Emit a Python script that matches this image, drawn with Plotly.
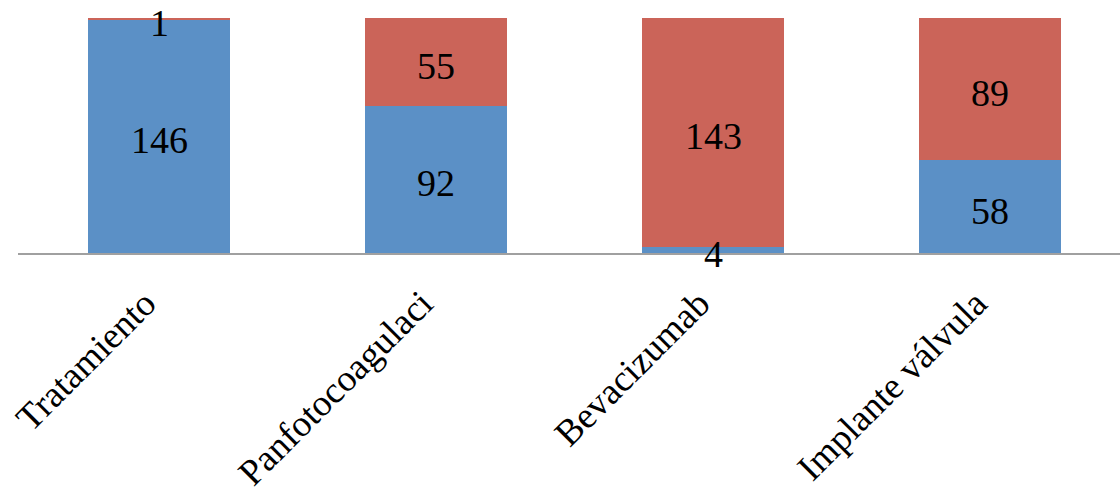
import plotly.graph_objects as go

# Treatment categories and the two stacked series
categorias = ["Tratamiento", "Panfotocoagulaci", "Bevacizumab", "Implante válvula"]
serie_azul = [146, 92, 4, 58]
serie_roja = [1, 55, 143, 89]

AZUL = "#5B90C6"
ROJO = "#CB6459"
FUENTE = "Liberation Serif"
TAM = 38

x_pos = list(range(len(categorias)))

fig = go.Figure()
fig.add_trace(go.Bar(x=x_pos, y=serie_azul, marker=dict(color=AZUL, line=dict(width=0)),
                     width=0.513, name="azul"))
fig.add_trace(go.Bar(x=x_pos, y=serie_roja, marker=dict(color=ROJO, line=dict(width=0)),
                     width=0.513, name="rojo"))

# Value labels centred in each stacked segment
for i, (a, r) in enumerate(zip(serie_azul, serie_roja)):
    fig.add_annotation(x=i, y=a / 2, text=str(a), showarrow=False, yshift=-4,
                       font=dict(family=FUENTE, size=TAM, color="black"))
    fig.add_annotation(x=i, y=a + r / 2, text=str(r), showarrow=False, yshift=-4,
                       font=dict(family=FUENTE, size=TAM, color="black"))

fig.update_layout(
    barmode="stack",
    width=1120, height=494,
    margin=dict(l=18, r=0, t=18, b=241),
    paper_bgcolor="white", plot_bgcolor="white",
    showlegend=False,
    bargap=0,
)
fig.update_xaxes(
    range=[-0.509, 3.469], automargin=False,
    tickmode="array", tickvals=x_pos, ticktext=categorias,
    tickangle=-45, tickfont=dict(family=FUENTE, size=37, color="black"),
    ticklabelstandoff=12, ticklabelshift=-14,
    showline=True, linecolor="#A0A0A0", linewidth=2,
    showgrid=False, zeroline=False, ticks="", ticklen=0,
)
fig.update_yaxes(range=[0, 147], visible=False, showgrid=False, zeroline=False,
                 automargin=False)

fig.write_html("out.html")
